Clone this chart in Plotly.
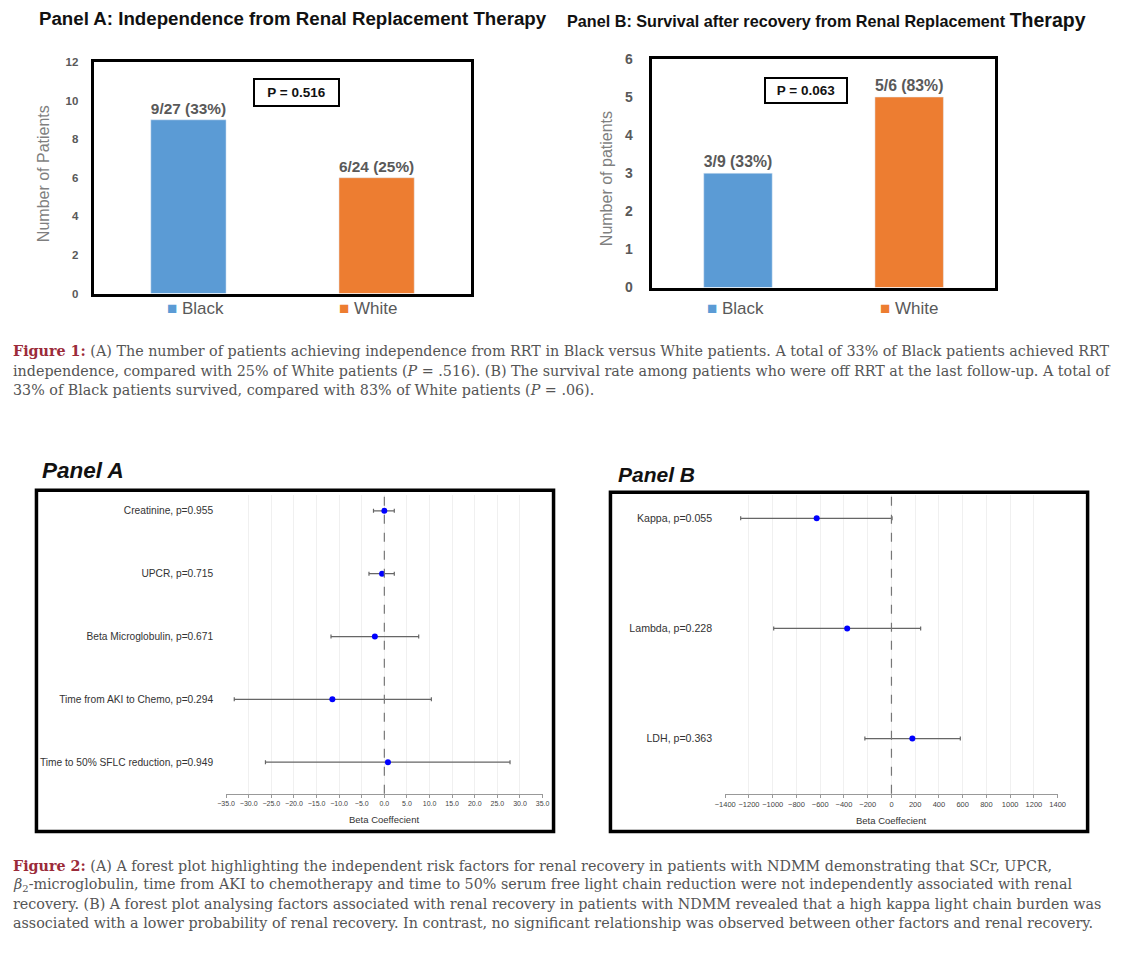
import plotly.graph_objects as go

# ---------------- data ----------------
groups = ["Black", "White"]
group_colors = ["#5B9BD5", "#ED7D31"]

rrt_indep = [9, 6]
rrt_total = [27, 24]
rrt_pct = [33, 25]
p_rrt = "0.516"

surv_n = [3, 5]
surv_total = [9, 6]
surv_pct = [33, 83]
p_surv = "0.063"

fa_labels = ["Creatinine, p=0.955", "UPCR, p=0.715", "Beta Microglobulin, p=0.671",
             "Time from AKI to Chemo, p=0.294", "Time to 50% SFLC reduction, p=0.949"]
fa_beta = [0.0, -0.5, -2.1, -11.5, 0.8]
fa_lo = [-2.4, -3.4, -11.8, -33.2, -26.3]
fa_hi = [2.2, 2.2, 7.6, 10.4, 27.8]

fb_labels = ["Kappa, p=0.055", "Lambda, p=0.228", "LDH, p=0.363"]
fb_beta = [-630, -373, 176]
fb_lo = [-1270, -992, -224]
fb_hi = [5, 246, 580]

fig1_lines = [
    "<span style='color:#9B2B3A'><b>Figure 1:</b></span> (A) The number of patients achieving independence from RRT in Black versus White patients. A total of 33% of Black patients achieved RRT",
    "independence, compared with 25% of White patients (<i>P</i> = .516). (B) The survival rate among patients who were off RRT at the last follow-up. A total of",
    "33% of Black patients survived, compared with 83% of White patients (<i>P</i> = .06).",
]
fig2_lines = [
    "<span style='color:#9B2B3A'><b>Figure 2:</b></span> (A) A forest plot highlighting the independent risk factors for renal recovery in patients with NDMM demonstrating that SCr, UPCR,",
    "<i>β</i><sub>2</sub>-microglobulin, time from AKI to chemotherapy and time to 50% serum free light chain reduction were not independently associated with renal",
    "recovery. (B) A forest plot analysing factors associated with renal recovery in patients with NDMM revealed that a high kappa light chain burden was",
    "associated with a lower probability of renal recovery. In contrast, no significant relationship was observed between other factors and renal recovery.",
]

# ---------------- layout helpers ----------------
W, H = 1136, 957
OX, OY, S = 9.5, 7.0, 0.985   # photographed page offset / scale compensation
def px(x):
    return ((x - OX) / S) / W
def py(y):
    return 1 - ((y - OY) / S) / H

GRAY = "#595959"
fig = go.Figure()

# ---------- bar chart A ----------
fig.add_trace(go.Bar(
    x=groups, y=rrt_indep, marker_color=group_colors, width=0.4,
    text=[f"<b>{n}/{d} ({p}%)</b>" for n, d, p in zip(rrt_indep, rrt_total, rrt_pct)],
    textposition="outside", textfont=dict(size=16, color=GRAY, family="Arial"),
    cliponaxis=False, xaxis="x", yaxis="y", showlegend=False))

# ---------- bar chart B ----------
fig.add_trace(go.Bar(
    x=groups, y=surv_n, marker_color=group_colors, width=0.4,
    text=[f"<b>{n}/{d} ({p}%)</b>" for n, d, p in zip(surv_n, surv_total, surv_pct)],
    textposition="outside", textfont=dict(size=16, color=GRAY, family="Arial"),
    cliponaxis=False, xaxis="x2", yaxis="y2", showlegend=False))

# ---------- forest A ----------
fig.add_trace(go.Scatter(
    x=fa_beta, y=list(range(len(fa_beta))), mode="markers",
    marker=dict(color="#0000FF", size=6),
    error_x=dict(type="data", symmetric=False,
                 array=[h - b for h, b in zip(fa_hi, fa_beta)],
                 arrayminus=[b - l for b, l in zip(fa_beta, fa_lo)],
                 color="#666666", thickness=1.2, width=2),
    xaxis="x3", yaxis="y3", showlegend=False))

# ---------- forest B ----------
fig.add_trace(go.Scatter(
    x=fb_beta, y=list(range(len(fb_beta))), mode="markers",
    marker=dict(color="#0000FF", size=6),
    error_x=dict(type="data", symmetric=False,
                 array=[h - b for h, b in zip(fb_hi, fb_beta)],
                 arrayminus=[b - l for b, l in zip(fb_beta, fb_lo)],
                 color="#666666", thickness=1.2, width=2),
    xaxis="x4", yaxis="y4", showlegend=False))

box_axis = dict(showline=True, mirror=True, linecolor="black", linewidth=2.5,
                showgrid=False, zeroline=False, fixedrange=True)

fig.update_layout(
    width=W, height=H, margin=dict(l=0, r=0, t=0, b=0),
    paper_bgcolor="white", plot_bgcolor="white",
    font=dict(family="Arial", color="#333333"),
    xaxis=dict(domain=[px(93), px(470)], anchor="y", type="category",
               showticklabels=False, ticks="", **box_axis),
    yaxis=dict(domain=[py(293), py(61)], anchor="x", range=[0, 12], dtick=2,
               ticks="outside", ticklen=11, tickcolor="rgba(0,0,0,0)",
               tickfont=dict(size=11.5, color=GRAY, weight="bold"), **box_axis),
    xaxis2=dict(domain=[px(652), px(995)], anchor="y2", type="category",
                showticklabels=False, ticks="", **box_axis),
    yaxis2=dict(domain=[py(287), py(58)], anchor="x2", range=[0, 6], dtick=1,
                ticks="outside", ticklen=14, tickcolor="rgba(0,0,0,0)",
                tickfont=dict(size=14, color=GRAY, weight="bold"), **box_axis),
    xaxis3=dict(domain=[px(225), px(542)], anchor="y3", range=[-35, 35], dtick=5,
                tickformat=".1f", showline=True, linecolor="#999999", linewidth=1,
                ticks="outside", ticklen=3, tickcolor="#999999",
                tickfont=dict(size=7, color="#444444"),
                showgrid=True, gridcolor="#F0F0F0", gridwidth=1, zeroline=False, fixedrange=True),
    yaxis3=dict(domain=[py(794), py(495)], anchor="x3", range=[4.5, -0.25],
                tickvals=list(range(len(fa_labels))), ticktext=fa_labels,
                ticks="outside", ticklen=10, tickcolor="rgba(0,0,0,0)",
                tickfont=dict(size=10.2, color="#333333"),
                showline=False, showgrid=False, zeroline=False, fixedrange=True),
    xaxis4=dict(domain=[px(725), px(1058)], anchor="y4", range=[-1400, 1400], dtick=200,
                showline=True, linecolor="#999999", linewidth=1,
                ticks="outside", ticklen=3, tickcolor="#999999",
                tickfont=dict(size=7.5, color="#444444"),
                showgrid=True, gridcolor="#F0F0F0", gridwidth=1, zeroline=False, fixedrange=True),
    yaxis4=dict(domain=[py(794), py(495)], anchor="x4", range=[2.5, -0.21],
                tickvals=list(range(len(fb_labels))), ticktext=fb_labels,
                ticks="outside", ticklen=10, tickcolor="rgba(0,0,0,0)",
                tickfont=dict(size=10.6, color="#333333"),
                showline=False, showgrid=False, zeroline=False, fixedrange=True),
)

shapes = [
    # zero reference lines
    dict(type="line", xref="x3", yref="y3 domain", x0=0, x1=0, y0=0, y1=1,
         line=dict(color="#777777", width=1.2, dash="dash")),
    dict(type="line", xref="x4", yref="y4 domain", x0=0, x1=0, y0=0, y1=1,
         line=dict(color="#777777", width=1.2, dash="dash")),
    # outer frames of forest panels
    dict(type="rect", xref="paper", yref="paper", x0=px(35), x1=px(553), y0=py(832), y1=py(490),
         line=dict(color="black", width=3.5)),
    dict(type="rect", xref="paper", yref="paper", x0=px(610), x1=px(1088), y0=py(832), y1=py(492),
         line=dict(color="black", width=3.5)),
]
fig.update_layout(shapes=shapes)

ann = []
def add(text, x, y, size, xanchor="center", color="#333333", family="Arial", **kw):
    ann.append(dict(text=text, x=px(x), y=py(y), xref="paper", yref="paper",
                    xanchor=xanchor, yanchor="middle", showarrow=False,
                    font=dict(size=size, color=color, family=family), **kw))

# titles of bar panels
add("<b>Panel A: Independence from Renal Replacement Therapy</b>", 292, 18, 18.7, color="#111111")
add("<b>Panel B: Survival after recovery from Renal Replacement <span style='font-size:19.5px'>Therapy</span></b>",
    826, 19, 16.2, color="#111111")
# y-axis titles of bar panels
add("Number of Patients", 42, 173, 16, color="#7F7F7F", textangle=-90)
add("Number of patients", 606, 178, 16, color="#7F7F7F", textangle=-90)
# legend entries under the bar panels (Excel-style)
legend_a_x = [194, 367]
legend_b_x = [735, 909]
for g, c, xa, xb in zip(groups, group_colors, legend_a_x, legend_b_x):
    label = f"<span style='color:{c}'>■</span> {g}"
    add(label, xa, 308, 17, color=GRAY)
    add(label, xb, 308, 17, color=GRAY)
# p-value boxes
ann.append(dict(text=f"<b>P = {p_rrt}</b>", x=px(295.5), y=py(92), xref="paper", yref="paper",
                xanchor="center", yanchor="middle", showarrow=False, width=81, height=23,
                bordercolor="black", borderwidth=2, borderpad=1, bgcolor="white",
                font=dict(size=13.5, color="#111111", family="Arial")))
ann.append(dict(text=f"<b>P = {p_surv}</b>", x=px(806), y=py(90), xref="paper", yref="paper",
                xanchor="center", yanchor="middle", showarrow=False, width=78, height=21,
                bordercolor="black", borderwidth=2, borderpad=1, bgcolor="white",
                font=dict(size=13.5, color="#111111", family="Arial")))
# forest panel titles
add("<b><i>Panel A</i></b>", 39, 470, 22.5, xanchor="left", color="#111111")
add("<b><i>Panel B</i></b>", 616, 474, 21, xanchor="left", color="#111111")
# forest axis titles
add("Beta Coeffecient", 383, 820, 9.5, color="#333333")
add("Beta Coeffecient", 891, 821, 9.5, color="#333333")

# captions
for i, line in enumerate(fig1_lines):
    add(line, 9, 351 + i * 19.5, 14.3, xanchor="left", color="#555555", family="DejaVu Serif")
for i, line in enumerate(fig2_lines):
    add(line, 9, 866 + i * 19.2, 14.3, xanchor="left", color="#555555", family="DejaVu Serif")

fig.update_layout(annotations=ann)

fig.write_html("out.html", config={"displayModeBar": False},
               post_script="document.body.style.margin='0';document.body.style.overflow='hidden';")
